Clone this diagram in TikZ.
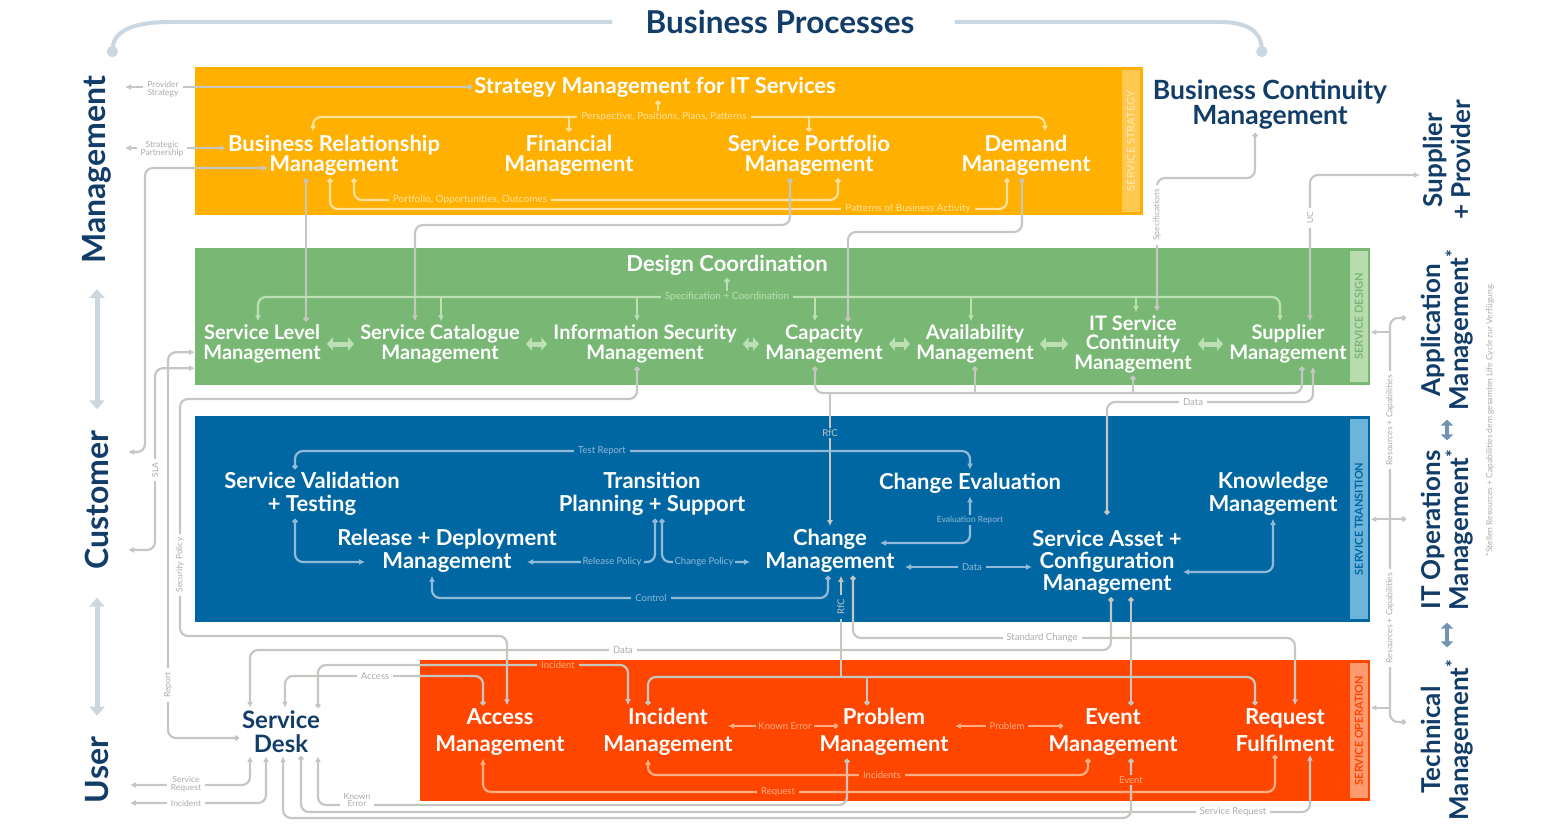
\documentclass[tikz,border=0pt]{standalone}
\usepackage{fontspec}
\setmainfont{Lato}
\usetikzlibrary{arrows.meta}

\definecolor{navy}{HTML}{133D69}
\definecolor{stratcol}{HTML}{FFB000}
\definecolor{stratstrip}{HTML}{FFC850}
\definecolor{stratline}{HTML}{FFE1A0}
\definecolor{descol}{HTML}{78B874}
\definecolor{desstrip}{HTML}{B8DCAE}
\definecolor{desline}{HTML}{BCE0B4}
\definecolor{transcol}{HTML}{0067A3}
\definecolor{transstrip}{HTML}{6DB4DB}
\definecolor{transline}{HTML}{93B9D8}
\definecolor{opcol}{HTML}{FF4600}
\definecolor{opstrip}{HTML}{FF9A6E}
\definecolor{opline}{HTML}{FFAE85}
\definecolor{greyline}{HTML}{C6C6C2}
\definecolor{greytext}{HTML}{ABABAB}
\definecolor{bpline}{HTML}{CBD7E0}
\definecolor{tmarrow}{HTML}{7393B3}

\tikzset{ball/.tip={Circle[length=5pt]}}

\begin{document}
\begin{tikzpicture}[x=1pt, y=-1pt,
  >={Latex[length=6pt,width=6pt]},
  every node/.style={font=\fontsize{9.5}{10}\selectfont},
  band/.style={rectangle, anchor=north west, inner sep=0pt},
  strip/.style={rectangle, rotate=90, minimum height=18pt, inner sep=0pt, font=\bfseries\fontsize{11}{11}\selectfont},
  proc/.style={align=center, text=white, inner xsep=2pt, inner ysep=3pt, font=\bfseries\fontsize{22}{20}\selectfont},
  dproc/.style={proc, font=\bfseries\fontsize{20}{20.5}\selectfont},
  tproc/.style={proc, font=\bfseries\fontsize{22}{23}\selectfont},
  oproc/.style={proc, font=\bfseries\fontsize{22}{27}\selectfont},
  navytext/.style={align=center, text=navy, inner sep=3pt},
  sidelabel/.style={navytext, rotate=90, font=\bfseries\fontsize{32}{32}\selectfont},
  mgr/.style={navytext, rotate=90, font=\bfseries\fontsize{26}{28}\selectfont},
  gline/.style={draw=greyline, line width=2.2pt, rounded corners=8pt},
  oline/.style={gline, draw=stratline},
  dline/.style={gline, draw=desline},
  bline/.style={gline, draw=transline},
  rline/.style={gline, draw=opline},
  glab/.style={fill=white, text=greytext, inner xsep=4pt, inner ysep=1.5pt, align=center},
  olab/.style={glab, fill=stratcol, text=stratline},
  dlab/.style={glab, fill=descol, text=desline},
  blab/.style={glab, fill=transcol, text=transline},
  rlab/.style={glab, fill=opcol, text=opline},
  twin/.style={draw=desline, line width=5pt, {Triangle[length=6pt,width=13pt]}-{Triangle[length=6pt,width=13pt]}, shorten <=4pt, shorten >=4pt},
  tier/.style={draw=bpline, line width=5pt, {Triangle[length=9pt,width=15pt]}-{Triangle[length=9pt,width=15pt]}},
  mgrlink/.style={draw=tmarrow, line width=4pt, {Triangle[length=6pt,width=12pt]}-{Triangle[length=6pt,width=12pt]}},
  bparc/.style={draw=bpline, line width=4pt}
]
\useasboundingbox (0,0) rectangle (1566,829);

\node[band, fill=stratcol, minimum width=948pt, minimum height=148pt] (strategy) at (195,67) {};
\node[band, fill=descol, minimum width=1175pt, minimum height=137pt] (design) at (195,248) {};
\node[band, fill=transcol, minimum width=1175pt, minimum height=206pt] (transition) at (195,416) {};
\node[band, fill=opcol, minimum width=950pt, minimum height=141pt] (operation) at (420,660) {};
\node[strip, fill=stratstrip, text=stratline, minimum width=142pt] at (1131,141) {SERVICE STRATEGY};
\node[strip, fill=desstrip, text=descol, minimum width=131pt] at (1359,316.5) {SERVICE DESIGN};
\node[strip, fill=transstrip, text=transcol, minimum width=200pt] at (1359,519) {SERVICE TRANSITION};
\node[strip, fill=opstrip, text=opcol, minimum width=135pt] at (1359,730.5) {SERVICE OPERATION};

\node[navytext, font=\bfseries\fontsize{31.5}{31.5}\selectfont] (bp) at (780,22) {Business Processes};
\node[sidelabel] (mgmt) at (97,170) {Management};
\node[sidelabel] (cust) at (97,500) {Customer};
\node[sidelabel] (user) at (97,770) {User};
\node[navytext, font=\bfseries\fontsize{26.5}{25}\selectfont] (bcm) at (1270,105) {Business Continuity\\Management};
\node[mgr] (spp) at (1447,160) {Supplier\\+ Provider};
\node[mgr] (appm) at (1447,330) {Application\\Management\textsuperscript{*}};
\node[mgr] (itom) at (1447,530) {IT Operations\\Management\textsuperscript{*}};
\node[mgr] (techm) at (1447,740) {Technical\\Management\textsuperscript{*}};
\node[rotate=90, text=greytext, font=\fontsize{8.5}{8.5}\selectfont] (note) at (1490,420) {*Stellen Resources + Capabilities dem gesamten Life Cycle zur Verfügung.};

\node[proc] (strat) at (655,87) {Strategy Management for IT Services};
\node[proc] (brm) at (334,155) {Business Relationship\\Management};
\node[proc] (fin) at (569,155) {Financial\\Management};
\node[proc] (spm) at (809,155) {Service Portfolio\\Management};
\node[proc] (dem) at (1026,155) {Demand\\Management};

\node[dproc, font=\bfseries\fontsize{22}{22}\selectfont] (dc) at (727,265) {Design Coordination};
\node[dproc] (slm) at (262,344) {Service Level\\Management};
\node[dproc] (scm) at (440,344) {Service Catalogue\\Management};
\node[dproc] (ism) at (645,344) {Information Security\\Management};
\node[dproc] (cap) at (824,344) {Capacity\\Management};
\node[dproc] (avm) at (975,344) {Availability\\Management};
\node[dproc, font=\bfseries\fontsize{20}{19.5}\selectfont] (itscm) at (1133,344) {IT Service\\Continuity\\Management};
\node[dproc] (sup) at (1288,344) {Supplier\\Management};

\node[tproc] (svt) at (312,494) {Service Validation\\+ Testing};
\node[tproc] (tps) at (652,494) {Transition\\Planning + Support};
\node[tproc] (cev) at (970,483) {Change Evaluation};
\node[tproc] (km) at (1273,494) {Knowledge\\Management};
\node[tproc] (rdm) at (447,551) {Release + Deployment\\Management};
\node[tproc] (chm) at (830,551) {Change\\Management};
\node[tproc, font=\bfseries\fontsize{22}{22}\selectfont] (sacm) at (1107,562) {Service Asset +\\Configuration\\Management};

\node[navytext, font=\bfseries\fontsize{24}{24}\selectfont] (sd) at (281,732) {Service\\Desk};
\node[oproc] (am) at (500,732) {Access\\Management};
\node[oproc] (im) at (668,732) {Incident\\Management};
\node[oproc] (pm) at (884,732) {Problem\\Management};
\node[oproc] (em) at (1113,732) {Event\\Management};
\node[oproc] (rf) at (1285,730) {Request\\Fulfilment};

\coordinate (bpL) at (112,57);
\coordinate (bpR) at (1262,57);
\draw[bparc, {Circle[length=11pt]}-] (bpL) .. controls (114,30) and (135,22) .. (170,22) -- ([xshift=-30pt]bp.west);
\draw[bparc, -{Circle[length=11pt]}] ([xshift=37pt]bp.east) -- (1220,22) .. controls (1248,22) and (1261,32) .. (bpR);
\draw[tier, shorten <=22pt, shorten >=18pt] (mgmt.west) -- (cust.east);
\draw[tier, shorten <=25pt, shorten >=18pt] (cust.west) -- (user.east);
\draw[mgrlink, shorten <=6pt, shorten >=6pt] (appm.west) -- (itom.east);
\draw[mgrlink, shorten <=9pt, shorten >=9pt] (itom.west) -- (techm.east);

\coordinate (ppp) at (658,117);
\coordinate (poo) at (600,200);
\coordinate (pba) at (600,209);
\draw[oline,<->] ([xshift=-21pt]brm.north) |- (ppp) -| ([xshift=19pt]dem.north);
\draw[oline,ball-] ([xshift=3pt]strat.south) -- (ppp);
\draw[oline,ball-] (fin.north) -- (fin.north |- ppp);
\draw[oline,ball-] (spm.north) -- (spm.north |- ppp);
\draw[oline,ball-ball] ([xshift=20pt]brm.south) |- (poo) -| ([xshift=29pt]spm.south);
\draw[oline,ball-ball] ([xshift=-4pt]brm.south) |- (pba) -| ([xshift=-19pt]dem.south);
\node[olab, font=\fontsize{10}{10}\selectfont] at (664,117) {Perspective, Positions, Plans, Patterns};
\node[olab, font=\fontsize{10}{10}\selectfont] at (470,200) {Portfolio, Opportunities, Outcomes};
\node[olab, font=\fontsize{10}{10}\selectfont] at (908,209) {Patterns of Business Activity};

\coordinate (ps) at (125,87);
\coordinate (sp) at (125,148);
\draw[gline,ball->] (strat.west) -- (strat.west -| ps);
\draw[gline,<->] ([yshift=7pt]brm.west) -- (sp);
\node[glab, font=\fontsize{8.5}{8}\selectfont] at (163,89) {Provider\\Strategy};
\node[glab, font=\fontsize{8.5}{8}\selectfont] at (162,149) {Strategic\\Partnership};
\draw[gline,<->] ([shift={(-66,13)}]brm.center) -| (145,452) -- ([shift={(16,-48)}]cust.south);
\draw[gline,ball->] ([yshift=-6pt]sd.west) -| (168,500) |- ([yshift=-35.5pt]design.west);
\draw[gline,<->] ([yshift=-51.5pt]design.west) -| (155,460) |- ([shift={(16,50)}]cust.south);
\draw[gline,ball->] ([xshift=-8pt]ism.south) |- (180,399) |- (400,636) -| ([xshift=7pt]am.north);
\node[glab, rotate=90, font=\fontsize{8.5}{8.5}\selectfont] at (155,470) {SLA};
\node[glab, rotate=90, font=\fontsize{8.5}{8.5}\selectfont] at (168,685) {Report};
\node[glab, rotate=90, font=\fontsize{8.5}{8.5}\selectfont] at (180,565) {Security Policy};

\draw[gline,ball-ball] ([xshift=-28pt]brm.south) -- ([xshift=44pt]slm.north);
\draw[gline,ball->] ([xshift=-19pt]spm.south) |- (600,225) -| ([xshift=-25pt]scm.north);
\draw[gline,ball-ball] ([xshift=-4pt]dem.south) |- (930,232) -| ([xshift=24pt]cap.north);
\draw[gline,ball->] ([xshift=-15pt]bcm.south) |- (1200,178) -| ([xshift=24pt]itscm.north);
\draw[gline,<->] ([xshift=22pt]sup.north) |- ([yshift=-15pt]spp.north);
\node[glab, rotate=90, font=\fontsize{8.5}{8.5}\selectfont] at (1157,215) {Specifications};
\node[glab, rotate=90, font=\fontsize{8.5}{8.5}\selectfont] at (1310,218) {UC};

\coordinate (spec) at (727,297);
\draw[dline,<->] ([xshift=-4pt]slm.north) |- (spec) -| ([xshift=-8pt]sup.north);
\draw[dline,ball-] (dc.south) -- (spec);
\foreach \n/\s in {scm/1pt, ism/-8pt, cap/-9pt, avm/-4pt, itscm/3pt} {
  \path ([xshift=\s]\n.north) coordinate (tap);
  \draw[dline,->] (tap |- spec) -- (tap);
}
\node[dlab, font=\fontsize{10}{10}\selectfont] at (727,297) {Specification + Coordination};
\foreach \a/\b in {slm/scm, scm/ism, ism/cap, cap/avm, avm/itscm, itscm/sup}
  \draw[twin] (\a.east) -- (\b.west);

\coordinate (rfcA) at (900,393);
\draw[gline,ball-ball] ([xshift=-9pt]cap.south) |- (rfcA) -| ([xshift=14pt]sup.south);
\draw[gline,ball-] (avm.south) -- (avm.south |- rfcA);
\draw[gline,ball-] (itscm.south) -- (itscm.south |- rfcA);
\draw[gline,->] (chm.north |- rfcA) -- (chm.north);
\node[blab, text=greyline] at (830,433) {RfC};
\draw[gline,ball->] ([yshift=12pt]sacm.north) |- (1200,402) -| ([xshift=25pt]sup.south);
\node[glab] at (1193,402) {Data};

\draw[bline,ball->] ([xshift=-17pt]svt.north) |- (600,451) -| (cev.north);
\node[blab] at (602,451) {Test Report};
\draw[bline,ball->] ([xshift=-17pt]svt.south) |- ([shift={(-82,11)}]rdm.center);
\draw[bline,ball->] ([xshift=3pt]tps.south) |- ([shift={(80,11)}]rdm.center);
\draw[bline,ball->] ([xshift=10pt]tps.south) |- ([shift={(-80,11)}]chm.center);
\node[blab, inner xsep=2pt] at (612,562) {Release Policy};
\node[blab, inner xsep=2pt] at (704,562) {Change Policy};
\draw[bline,ball->] ([xshift=-2pt]chm.south) |- (600,598) -| ([xshift=-15pt]rdm.south);
\node[blab] at (651,598) {Control};
\draw[bline,<->] (cev.south) |- ([shift={(50,-8)}]chm.center);
\node[blab, font=\fontsize{8.5}{8.5}\selectfont] at (970,520) {Evaluation Report};
\draw[bline,<->] ([shift={(75,16)}]chm.center) -- ([shift={(-75,5)}]sacm.center);
\node[blab] at (972,567) {Data};
\draw[bline,<->] (km.south) |- ([shift={(76,10)}]sacm.center);

\draw[gline,ball->] ([xshift=23pt]chm.south) |- (1000,638) -| ([xshift=10pt]rf.north);
\node[glab] at (1042,638) {Standard Change};
\coordinate (rfcB) at (841,677);
\draw[gline,ball-ball] ([xshift=-20pt]im.north) |- (rfcB) -| ([xshift=-30pt]rf.north);
\path ([xshift=-17pt]pm.north) coordinate (tap);
\draw[gline,ball-] (tap) -- (tap |- rfcB);
\draw[gline,->] (rfcB) -- ([xshift=11pt]chm.south);
\node[blab, rotate=90, text=greyline] at (841,607) {RfC};
\draw[gline,ball-ball] ([xshift=24pt]sacm.south) -- ([xshift=18pt]em.north);
\draw[gline,ball->] ([xshift=4pt]sacm.south) |- (600,650) -| ([xshift=-31pt]sd.north);
\node[glab] at (623,650) {Data};
\draw[gline,ball->] ([xshift=-17pt]am.north) |- (400,676) -| ([xshift=4pt]sd.north);
\node[glab] at (375,676) {Access};
\draw[gline,ball->] ([xshift=37pt]sd.north) |- (500,665) -| ([xshift=-40pt]im.north);
\node[rlab] at (558,665) {Incident};

\draw[gline,ball->] ([xshift=-37pt]pm.south) |- (600,805) -| ([xshift=37pt]sd.south);
\node[glab, font=\fontsize{8.5}{7.5}\selectfont] at (357,800) {Known\\Error};
\draw[gline,ball->] ([xshift=18pt]em.south) |- (700,818) -| ([xshift=2pt]sd.south);
\node[rlab] at (1131,780) {Event};
\draw[gline,ball->] ([xshift=20pt]sd.south) |- (700,812) -| ([xshift=25pt]rf.south);
\node[glab] at (1233,812) {Service Request};
\draw[gline,<->] ([xshift=-31pt]sd.south) |- ([shift={(18,15)}]user.south);
\draw[gline,<->] ([xshift=-15pt]sd.south) |- ([shift={(18,33)}]user.south);
\node[glab, font=\fontsize{8.5}{7.5}\selectfont] at (186,784) {Service\\Request};
\node[glab, font=\fontsize{8.5}{8.5}\selectfont] at (186,803) {Incident};

\draw[rline,ball->] ([shift={(-46,-6)}]pm.center) -- ([shift={(60,-6)}]im.center);
\node[rlab, inner xsep=2pt] at (785,726) {Known Error};
\draw[rline,ball->] ([shift={(-50,-6)}]em.center) -- ([shift={(71,-6)}]pm.center);
\node[rlab] at (1007,726) {Problem};
\draw[rline,ball->] ([xshift=-25pt]em.south) |- (880,775) -| ([xshift=-20pt]im.south);
\node[rlab] at (882,775) {Incidents};
\draw[rline,ball->] ([xshift=-10pt]rf.south) |- (780,792) -| ([xshift=-17pt]am.south);
\node[rlab] at (778,792) {Request};

\coordinate (rcx) at (1390,0);
\draw[gline,ball-ball] ([shift={(-12,-12)}]appm.north) -| (1390,520) |- ([shift={(-12,-18)}]techm.north);
\path ([shift={(-12,-11)}]itom.north) coordinate (it);
\draw[gline,ball-] (it) -- (it -| rcx);
\foreach \b/\s in {design/-15.5pt, transition/0pt, operation/23pt} {
  \path ([yshift=\s]\b.east) coordinate (rt);
  \draw[gline,->] (rt -| rcx) -- (rt);
}
\node[glab, rotate=90, font=\fontsize{8.5}{8.5}\selectfont] at (1390,420) {Resources + Capabilities};
\node[glab, rotate=90, font=\fontsize{8.5}{8.5}\selectfont] at (1390,618) {Resources + Capabilities};
\end{tikzpicture}
\end{document}
